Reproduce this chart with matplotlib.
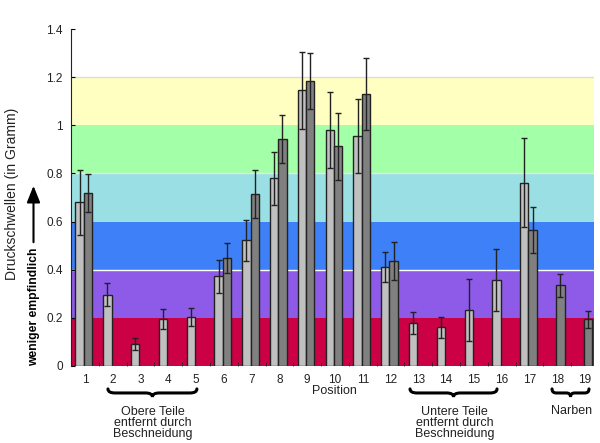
import numpy as np
import matplotlib
matplotlib.use('Agg')
import matplotlib.pyplot as plt
import matplotlib.transforms as mtransforms
from matplotlib.path import Path
from matplotlib.patches import PathPatch

nan = np.nan

# positions on the body, two measurements per position
positions = np.arange(1, 20)
light_vals = [0.68, 0.297, 0.093, 0.194, 0.205, 0.373, 0.523, 0.78, 1.146, 0.98,
              0.955, 0.41, 0.177, 0.161, 0.232, 0.356, 0.762, nan, nan]
light_err = [0.135, 0.047, 0.025, 0.042, 0.037, 0.069, 0.085, 0.11, 0.16, 0.158,
             0.154, 0.062, 0.046, 0.044, 0.128, 0.129, 0.185, nan, nan]
dark_vals = [0.718, nan, nan, nan, nan, 0.448, 0.714, 0.943, 1.184, 0.913,
             1.13, 0.435, nan, nan, nan, nan, 0.565, 0.335, 0.194]
dark_err = [0.08, nan, nan, nan, nan, 0.062, 0.10, 0.10, 0.116, 0.14,
            0.15, 0.079, nan, nan, nan, nan, 0.095, 0.047, 0.035]

# sensitivity bands
band_edges = [0, 0.2, 0.4, 0.6, 0.8, 1.0, 1.2]
band_colors = ['#CC0044', '#8E5BE8', '#3D80F8', '#99DFE3', '#A3FFA8', '#FFFFC2']

plt.rcParams['font.family'] = ['Liberation Sans', 'DejaVu Sans']

fig = plt.figure(figsize=(6, 4.43), dpi=100)
ax = fig.add_axes([71 / 600, 77 / 443, 523 / 600, 337 / 443])

# background bands
for lo, hi, c in zip(band_edges[:-1], band_edges[1:], band_colors):
    ax.axhspan(lo, hi, color=c, lw=0, zorder=0)
ax.axhline(0.4, color='white', lw=1, zorder=1)
ax.axhline(0.8, color='#E8E8E8', lw=1, zorder=1)
ax.axhline(1.2, color='#DCDCDC', lw=1, zorder=1)

w = 0.3
ax.bar(positions - 0.19, light_vals, w, color='#C0C0C0', edgecolor='#222222', lw=1, zorder=2)
ax.bar(positions + 0.11, dark_vals, w, color='#808080', edgecolor='#222222', lw=1, zorder=2)
ax.errorbar(positions - 0.19, light_vals, yerr=light_err, fmt='none', ecolor='#222222',
            elinewidth=1, capsize=2.5, capthick=1, zorder=3)
ax.errorbar(positions + 0.11, dark_vals, yerr=dark_err, fmt='none', ecolor='#222222',
            elinewidth=1, capsize=2.5, capthick=1, zorder=3)

ax.set_xlim(0.5, 19.32)
ax.set_ylim(0, 1.4)
ax.set_yticks([0, 0.2, 0.4, 0.6, 0.8, 1.0, 1.2, 1.4])
ax.set_yticklabels(['0', '0.2', '0.4', '0.6', '0.8', '1', '1.2', '1.4'])
ax.set_xticks(positions)
ax.set_xticks(np.arange(1.5, 19.5, 1), minor=True)
ax.tick_params(axis='x', which='major', length=0, pad=6, labelsize=8.5, labelcolor='#222222')
ax.tick_params(axis='x', which='minor', direction='in', length=3, color='#222222')
ax.tick_params(axis='y', direction='in', length=3, pad=6, labelsize=8.5, labelcolor='#222222')
for s in ['top', 'right', 'bottom']:
    ax.spines[s].set_visible(False)
ax.spines['left'].set_color('#222222')

tr = mtransforms.blended_transform_factory(ax.transData, ax.transAxes)
ax.text(9.98, -0.074, 'Position', transform=tr,
        ha='center', va='center', fontsize=9, color='#222222')


def brace(x0, x1, y, h, r):
    xm = (x0 + x1) / 2
    verts = [(x0, y), (x0, y - h), (x0 + r, y - h), (xm - r, y - h), (xm, y - h), (xm, y - 2 * h),
             (xm, y - h), (xm + r, y - h), (x1 - r, y - h), (x1, y - h), (x1, y)]
    codes = [Path.MOVETO, Path.CURVE3, Path.CURVE3, Path.LINETO, Path.CURVE3, Path.CURVE3,
             Path.CURVE3, Path.CURVE3, Path.LINETO, Path.CURVE3, Path.CURVE3]
    ax.add_patch(PathPatch(Path(verts, codes), fill=False, lw=2.2, color='black',
                           transform=tr, clip_on=False, capstyle='round'))


brace(1.83, 5.03, -0.068, 0.012, 0.25)
brace(12.70, 15.83, -0.068, 0.012, 0.25)
brace(17.81, 19.14, -0.068, 0.012, 0.15)

ax.text(3.45, -0.12, 'Obere Teile\nentfernt durch\nBeschneidung', transform=tr,
        ha='center', va='top', fontsize=9, linespacing=0.85, color='#222222')
ax.text(14.3, -0.12, 'Untere Teile\nentfernt durch\nBeschneidung', transform=tr,
        ha='center', va='top', fontsize=9, linespacing=0.85, color='#222222')
ax.text(18.5, -0.115, 'Narben', transform=tr,
        ha='center', va='top', fontsize=9, color='#222222')

# y labels
fig.text(12.5 / 600, 1 - 194 / 443, 'Druckschwellen (in Gramm)', rotation=90,
         ha='center', va='center', fontsize=10, color='#222222')
fig.text(34 / 600, 1 - 307 / 443, 'weniger empfindlich', rotation=90,
         ha='center', va='center', fontsize=8.7, fontweight='bold', color='black')
fig.add_artist(matplotlib.patches.FancyArrowPatch(
    (33.5 / 600, 1 - 245 / 443), (33.5 / 600, 1 - 183 / 443), transform=fig.transFigure,
    arrowstyle='-|>,head_length=10,head_width=4', mutation_scale=1, lw=1.5, color='black'))

fig.savefig('out.png', dpi=100)
